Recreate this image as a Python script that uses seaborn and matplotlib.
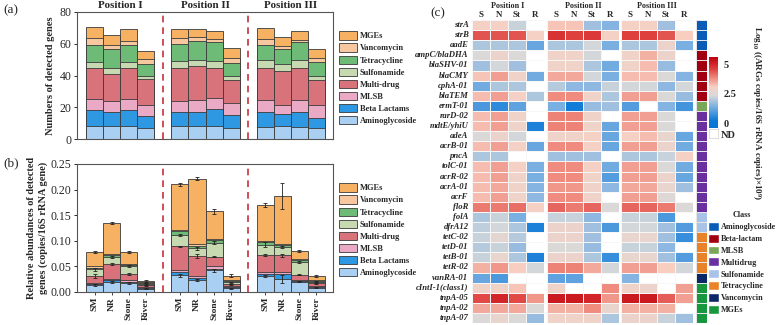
import matplotlib
matplotlib.use("Agg")
import matplotlib.pyplot as plt
from matplotlib.colors import LinearSegmentedColormap, ListedColormap
from matplotlib.patches import Patch
import numpy as np
import pandas as pd
import seaborn as sns

# ---------------- data ----------------
sites = ["SM", "NR", "Stone", "River"]
positions = ["Position I", "Position II", "Position III"]
x_pos = [1, 2, 3, 4, 6, 7, 8, 9, 11, 12, 13, 14]

classes_ab = ["Aminoglycoside", "Beta Lactams", "MLSB", "Multi-drug",
              "Sulfonamide", "Tetracycline", "Vancomycin", "MGEs"]
class_colors_ab = ["#a9cff2", "#2f98e3", "#eaa9c4", "#d9737b",
                   "#c6d9b0", "#6dbb77", "#f7c8a0", "#f6b162"]

# (a) numbers of detected genes, per class (bottom -> top), 12 bars
n_amino = [8, 8, 8, 7, 8, 8, 8, 7, 7.5, 8, 7.5, 7]
n_beta = [10, 9, 10.5, 7.5, 9, 9, 11, 8, 9.5, 8, 9.5, 6.5]
n_mlsb = [7, 7, 6.5, 7, 7, 7.5, 7, 7.5, 7.5, 5.5, 7.5, 8]
n_multi = [19.5, 17, 19.5, 16, 21, 21.5, 19, 14.5, 20.5, 21.5, 20.5, 15.5]
n_sulf = [4, 4, 4, 2.5, 4, 4, 4, 2.5, 4.5, 4, 4.5, 2.5]
n_tetra = [11, 12, 11, 7.5, 11, 11.5, 12, 8.5, 9.5, 9.5, 11.5, 9]
n_vanc = [4, 2, 2, 3, 3.5, 3, 2, 3, 4, 2, 1.5, 2.5]
n_mge = [7, 6.5, 7.5, 5, 5.5, 5, 5, 6.5, 7, 5.5, 5.5, 6]

# (b) relative abundances (copies/16S rRNA gene), per class
r_amino = [0.013, 0.020, 0.018, 0.006, 0.033, 0.023, 0.042, 0.007, 0.031, 0.026, 0.020, 0.008]
r_beta = [0.002, 0.004, 0.002, 0.002, 0.006, 0.005, 0.003, 0.002, 0.005, 0.010, 0.002, 0.002]
r_mlsb = [0.002, 0.002, 0.003, 0.002, 0.003, 0.003, 0.006, 0.002, 0.003, 0.003, 0.002, 0.002]
r_multi = [0.015, 0.028, 0.012, 0.003, 0.047, 0.039, 0.018, 0.004, 0.033, 0.033, 0.010, 0.005]
r_sulf = [0.012, 0.015, 0.015, 0.003, 0.022, 0.015, 0.027, 0.004, 0.020, 0.015, 0.025, 0.003]
r_tetra = [0.003, 0.004, 0.003, 0.002, 0.008, 0.005, 0.005, 0.002, 0.006, 0.004, 0.003, 0.002]
r_vanc = [0.003, 0.002, 0.002, 0.001, 0.003, 0.003, 0.003, 0.002, 0.002, 0.002, 0.002, 0.001]
r_mge = [0.029, 0.059, 0.024, 0.002, 0.088, 0.128, 0.054, 0.009, 0.070, 0.094, 0.017, 0.008]

e_amino = [0.002, 0.002, 0.002, 0.001, 0.003, 0.002, 0.002, 0.001, 0.002, 0.008, 0.001, 0.001]
e_multi = [0.004, 0.002, 0.002, 0.001, 0.001, 0.004, 0.001, 0.001, 0.002, 0.003, 0.001, 0.001]
e_sulf = [0.003, 0.002, 0.002, 0.001, 0.002, 0.003, 0.003, 0.001, 0.005, 0.002, 0.002, 0.001]
e_total = [0.002, 0.002, 0.002, 0.002, 0.002, 0.003, 0.005, 0.003, 0.004, 0.025, 0.002, 0.002]

# (c) heatmap, log10 (ARG copies/16S rRNA copies x 1e9); nan = ND
genes = ["strA", "strB", "aadE", "ampC/blaDHA", "blaSHV-01", "blaCMY", "cphA-01",
         "blaTEM", "ermT-01", "rarD-02", "mdtE/yhiU", "adeA", "acrB-01", "pncA",
         "tolC-01", "acrR-02", "acrA-01", "acrF", "floR", "folA", "dfrA12",
         "tetC-02", "tetD-01", "tetB-01", "tetR-02", "vanRA-01", "cIntI-1(class1)",
         "tnpA-05", "tnpA-02", "tnpA-07"]
hm_cols = ["S", "N", "St", "R"]
gene_class = [0, 0, 0, 1, 1, 1, 1, 1, 2, 3, 3, 3, 3, 3, 3, 3, 3, 3, 3,
              4, 4, 5, 5, 5, 5, 6, 7, 7, 7, 7]
class_names = ["Aminoglycoside", "Beta-lactam", "MLSB", "Multidrug",
               "Sulfonamide", "Tetracycline", "Vancomycin", "MGEs"]
class_colors = ["#0b5cb6", "#a2000f", "#7aa659", "#6a30a0",
                "#a9c3e8", "#e8832a", "#0a2868", "#18983e"]

N = np.nan
pos1_vals = [
    [3.0, 3.0, 2.2, N], [4.4, 4.4, 4.4, 3.0], [1.9, 1.9, 1.9, 1.2], [2.4, 2.8, 2.4, N],
    [1.8, 2.3, 1.8, N], [3.2, 3.6, 2.9, 1.3], [1.3, 1.9, 1.9, N], [3.3, 3.6, 3.0, 1.9],
    [0.9, 0.6, 1.1, N], [3.3, 3.6, 2.9, N], [3.3, 3.6, 2.9, 0.4], [2.4, 2.8, 2.3, N],
    [3.3, 3.6, 3.0, 1.2], [1.9, 1.9, N, N], [3.3, 3.6, 3.0, 1.4], [3.3, 3.6, 2.9, 1.4],
    [3.3, 3.5, 2.9, 1.5], [3.3, 3.6, 2.9, 1.6], [4.0, 4.0, 4.1, 3.0], [1.9, 2.2, 1.4, N],
    [2.1, 2.3, 1.9, 0.4], [2.2, 2.6, 2.0, N], [2.0, 2.2, 1.7, N], [2.2, 2.7, 1.9, 0.4],
    [3.4, 3.7, 3.1, 2.3], [1.2, 0.9, N, N], [2.9, 2.9, 3.2, N], [4.5, 5.0, 4.5, 3.7],
    [3.5, 3.5, 3.5, 2.4], [2.4, 2.7, 2.4, 1.7],
]
pos2_vals = [
    [3.2, 3.2, 1.8, 1.5], [4.8, 4.6, 4.7, 3.0], [1.9, 1.9, 2.3, 1.4], [2.9, 2.9, 2.3, N],
    [2.9, 2.9, 1.9, 1.3], [3.5, 3.5, 2.3, 1.4], [2.0, 1.6, 1.6, 2.2], [3.8, 3.8, 2.9, 1.9],
    [1.4, 0.3, 1.7, 1.8], [3.9, 3.9, 2.9, N], [3.9, 3.9, 2.9, 1.2], [2.9, 2.9, 3.0, 1.2],
    [3.8, 3.8, 3.0, 1.2], [1.8, 1.8, 1.8, N], [3.8, 3.8, 3.0, 1.3], [3.8, 3.8, 2.9, 1.0],
    [3.7, 3.7, 2.9, 1.6], [3.8, 3.8, 2.9, N], [4.2, 4.0, 4.2, 2.4], [2.2, 2.2, 1.6, N],
    [2.8, 2.8, 1.8, 0.9], [2.8, 2.8, 1.8, N], [2.4, 2.4, 1.7, N], [2.8, 2.8, 1.9, 0.7],
    [3.9, 3.9, 3.5, 2.3], [1.1, 1.1, N, N], [2.9, N, N, 3.8], [5.2, 5.2, 5.0, 3.7],
    [3.4, 3.4, 3.8, 2.7], [2.9, 2.9, 2.9, 1.9],
]
pos3_vals = [
    [3.0, 3.0, 1.8, N], [4.6, 4.6, 4.4, 3.1], [1.9, 1.9, 2.8, 1.4], [2.9, 3.4, 2.8, N],
    [2.9, 3.3, 1.7, N], [3.3, 3.3, 2.4, 1.5], [2.3, 2.3, 1.6, 2.3], [3.6, 3.6, 2.4, 1.7],
    [1.0, N, 1.5, 0.8], [3.6, 3.6, 2.4, N], [3.6, 3.6, 2.4, N], [3.0, 3.3, 2.7, 1.2],
    [3.6, 3.6, 2.8, 1.3], [1.9, 1.9, 2.2, 3.0], [3.6, 3.6, 2.4, 1.3], [3.6, 3.6, 2.8, 1.2],
    [3.5, 3.5, 2.7, 1.8], [3.6, 3.6, 2.5, N], [4.2, 4.2, 4.0, 2.4], [2.2, 2.2, 0.9, N],
    [2.3, 2.3, 1.8, 1.0], [2.7, 2.7, 1.8, 0.7], [2.2, 2.2, 1.6, N], [2.7, 2.7, 1.8, 1.0],
    [3.6, 3.6, 3.1, 2.3], [1.5, N, N, N], [2.9, 2.8, N, 3.6], [5.2, 5.2, 4.3, 3.6],
    [3.4, 3.4, 3.4, N], [2.8, 2.8, 2.2, 1.8],
]

# ---------------- style ----------------
sns.set_style("white")
plt.rcParams["font.family"] = ["Liberation Serif", "DejaVu Serif"]
plt.rcParams["mathtext.fontset"] = "custom"
plt.rcParams["mathtext.rm"] = "Liberation Serif:bold"
plt.rcParams["mathtext.bf"] = "Liberation Serif:bold"
plt.rcParams["mathtext.default"] = "bf"

W, H = 776, 325
fig = plt.figure(figsize=(W / 100, H / 100), dpi=100)


def px(x0, y0, x1, y1):
    return [x0 / W, 1 - y1 / H, (x1 - x0) / W, (y1 - y0) / H]


edge = "#3a3a3a"
dash_red = "#c7303a"
slot_order = [str(i) for i in range(15)]  # slots 0, 5, 10 stay empty


def stacked(ax, parts):
    rows = []
    for i, x in enumerate(x_pos):
        top = 0
        for c, vals in zip(classes_ab, parts):
            top += vals[i]
            rows.append({"slot": str(x), "pos": x, "cls": c, "top": top})
    df = pd.DataFrame(rows)
    for c, col in reversed(list(zip(classes_ab, class_colors_ab))):
        sub = df[df["cls"] == c]
        sns.barplot(data=sub, x="slot", y="top", order=slot_order, width=1,
                    color=col, edgecolor=edge, linewidth=0.6, saturation=1,
                    errorbar=None, ax=ax)
    return df


def frame(ax):
    for s in ax.spines.values():
        s.set_visible(True)
        s.set_color("#555555")
        s.set_linewidth(0.8)
    ax.set_xlim(-0.03, 14.97)
    ax.axvline(5, color=dash_red, ls=(0, (4, 3)), lw=1.2)
    ax.axvline(10, color=dash_red, ls=(0, (4, 3)), lw=1.2)
    ax.tick_params(axis="y", direction="out", length=2.5, width=0.7,
                   labelsize=8.5, pad=1.5, left=True)


legend_handles = [Patch(facecolor=c, edgecolor=edge, linewidth=0.6)
                  for c in reversed(class_colors_ab)]
legend_labels = list(reversed(classes_ab))

# ---------------- panel (a) ----------------
ax_a = fig.add_axes(px(77, 12, 333, 139))
stacked(ax_a, [n_amino, n_beta, n_mlsb, n_multi, n_sulf, n_tetra, n_vanc, n_mge])
frame(ax_a)
ax_a.set_ylim(0, 80)
ax_a.set_yticks([0, 20, 40, 60, 80])
ax_a.set_xticks([])
ax_a.set_xlabel("")
ax_a.set_ylabel("Numbers of detected genes", fontsize=7.5, fontweight="bold", labelpad=3)
for xc, name in zip([2.5, 7.5, 12.5], positions):
    ax_a.text(xc, 1.015, name, transform=ax_a.get_xaxis_transform(),
              ha="center", va="bottom", fontsize=7.9, fontweight="bold")
ax_a.legend(legend_handles, legend_labels, loc="upper left",
            bbox_to_anchor=(336 / W, 1 - 28 / H), bbox_transform=fig.transFigure,
            frameon=False, prop={"size": 6.0, "weight": "bold"},
            handlelength=2.1, handleheight=1.2, labelspacing=0.36,
            handletextpad=0.35, borderaxespad=0)
fig.text(3 / W, 1 - 10 / H, "(a)", fontsize=9.5, va="center", ha="left")

# ---------------- panel (b) ----------------
ax_b = fig.add_axes(px(77, 164, 333, 292))
parts_b = [r_amino, r_beta, r_mlsb, r_multi, r_sulf, r_tetra, r_vanc, r_mge]
df_b = stacked(ax_b, parts_b)
frame(ax_b)
ax_b.set_ylim(0, 0.25)
ax_b.set_yticks([0, 0.05, 0.10, 0.15, 0.20, 0.25])
ax_b.set_yticklabels([f"{v:.2f}" for v in [0, 0.05, 0.10, 0.15, 0.20, 0.25]])
ax_b.set_xticks(x_pos)
ax_b.set_xticklabels(sites * 3, rotation=90, fontsize=6.8, fontweight="bold")
ax_b.tick_params(axis="x", direction="out", length=2, width=0.6, pad=1.5, bottom=True)
ax_b.set_xlabel("")
ax_b.set_ylabel("Relative abundances of detected\ngenes (copies/16S rRNA gene)",
                fontsize=7.5, fontweight="bold", labelpad=2, linespacing=1.25)

for cls, err in zip(["Aminoglycoside", "Multi-drug", "Sulfonamide", "MGEs"],
                    [e_amino, e_multi, e_sulf, e_total]):
    sub = df_b[df_b["cls"] == cls]
    ax_b.errorbar(sub["pos"], sub["top"], yerr=err, fmt="none", ecolor="#222222",
                  elinewidth=0.6, capsize=1.5, capthick=0.6)
ax_b.legend(legend_handles, legend_labels, loc="upper left",
            bbox_to_anchor=(336 / W, 1 - 180 / H), bbox_transform=fig.transFigure,
            frameon=False, prop={"size": 6.0, "weight": "bold"},
            handlelength=2.1, handleheight=1.2, labelspacing=0.36,
            handletextpad=0.35, borderaxespad=0)
fig.text(3 / W, 1 - 163 / H, "(b)", fontsize=9.5, va="center", ha="left")

# ---------------- panel (c) ----------------
vmin, vmax = -0.4, 5.6
cmap = LinearSegmentedColormap.from_list("argcmap", [
    (0.00, "#0a74d4"), (0.10, "#0a78d8"), (0.32, "#86b5e2"), (0.46, "#d9d9d9"),
    (0.58, "#f7d0c2"), (0.71, "#ee877b"), (0.84, "#dd3d3c"), (1.00, "#bd000b")])

cax = fig.add_axes(px(709, 57, 718, 128))
hm_boxes = [(472, 544), (547, 619), (621, 693)]
for k, (vals, name, (x0, x1)) in enumerate(zip([pos1_vals, pos2_vals, pos3_vals],
                                               positions, hm_boxes)):
    ax = fig.add_axes(px(x0, 20, x1, 323))
    dfh = pd.DataFrame(vals, index=genes, columns=hm_cols)
    sns.heatmap(dfh, ax=ax, cmap=cmap, vmin=vmin, vmax=vmax,
                linewidths=0.5, linecolor="#f6f6f6",
                cbar=(k == 0), cbar_ax=cax if k == 0 else None,
                xticklabels=hm_cols, yticklabels=genes if k == 0 else False)
    ax.xaxis.tick_top()
    ax.tick_params(axis="x", length=0, pad=1, labelsize=6.5)
    for t in ax.get_xticklabels():
        t.set_fontweight("bold")
        t.set_rotation(0)
    ax.set_title(name, fontsize=5.9, fontweight="bold", pad=9)
    ax.set_xlabel("")
    ax.set_ylabel("")
    if k == 0:
        ax.tick_params(axis="y", length=0, pad=2.5, labelsize=6.2)
        for t in ax.get_yticklabels():
            t.set_fontstyle("italic")
            t.set_fontweight("bold")
            t.set_rotation(0)

ax_cls = fig.add_axes(px(696, 20, 707, 323))
sns.heatmap(pd.DataFrame({"c": gene_class}), ax=ax_cls,
            cmap=ListedColormap(class_colors), vmin=-0.5, vmax=7.5,
            linewidths=0.5, linecolor="#e6e6e6", cbar=False,
            xticklabels=False, yticklabels=False)

cax.set_yticks([0, 2.5, 5])
cax.set_yticklabels(["0", "2.5", "5"])
cax.tick_params(length=0, pad=4, labelsize=7.5)
for t in cax.get_yticklabels():
    t.set_fontweight("bold")
ax_nd = fig.add_axes(px(709, 129, 718, 138))
ax_nd.set_xticks([])
ax_nd.set_yticks([])
for s in ax_nd.spines.values():
    s.set_color("#d0d0d0")
    s.set_linewidth(0.5)
fig.text(721 / W, 1 - 135 / H, "ND", fontsize=7.5, fontweight="bold", va="center", ha="left")

fig.text(756 / W, 1 - 113 / H,
         "Log$_{10}$ ((ARGs copies/16S rRNA copies)×10$^{9}$)",
         rotation=-90, fontsize=6.6, fontweight="bold", ha="center", va="center")

cls_handles = [Patch(facecolor=c) for c in class_colors]
fig.legend(cls_handles, class_names, title="Class", loc="upper left",
           bbox_to_anchor=(708 / W, 1 - 211 / H), frameon=False,
           prop={"size": 5.9, "weight": "bold"},
           title_fontproperties={"size": 5.9, "weight": "bold"},
           handlelength=1.3, handleheight=1.3, labelspacing=0.33,
           handletextpad=0.25, borderaxespad=0, borderpad=0)
fig.text(430 / W, 1 - 13 / H, "(c)", fontsize=9.5, va="center", ha="left")

fig.savefig("out.png", dpi=100)
